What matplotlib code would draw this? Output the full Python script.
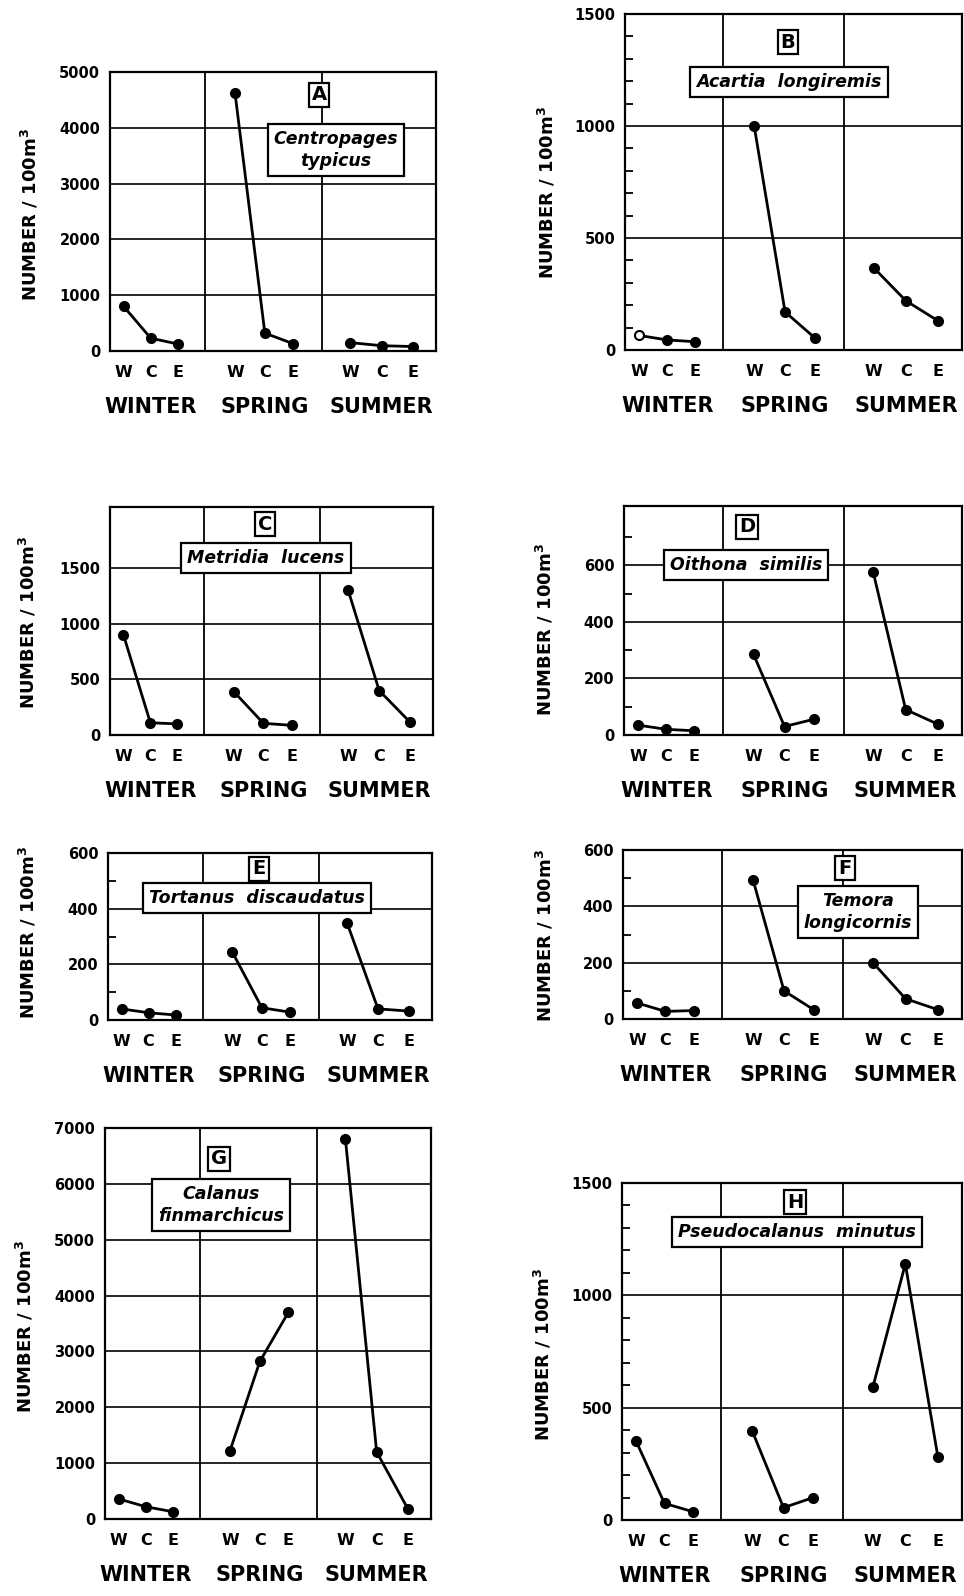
import matplotlib.pyplot as plt

W_PX, H_PX = 964, 1596
fig = plt.figure(figsize=(W_PX / 100, H_PX / 100), dpi=100)
plt.rcParams['font.family'] = ['DejaVu Sans']

seasons = ['WINTER', 'SPRING', 'SUMMER']
stations = ['W', 'C', 'E']

# numbers / 100 m^3 at stations W, C, E for each season
centropages = [[800, 230, 125], [4630, 320, 130], [150, 95, 80]]
acartia = [[65, 45, 37], [1000, 170, 55], [368, 220, 130]]
metridia = [[900, 110, 100], [390, 105, 87], [1300, 400, 115]]
oithona = [[35, 20, 15], [285, 30, 56], [575, 90, 38]]
tortanus = [[40, 26, 18], [245, 44, 28], [350, 40, 32]]
temora = [[57, 27, 30], [495, 100, 33], [200, 72, 33]]
calanus = [[360, 220, 130], [1220, 2820, 3700], [6800, 1200, 180]]
pseudocalanus = [[350, 74, 37], [395, 55, 100], [590, 1140, 280]]

# x layout inside each panel (0..12)
station_x = [[0.5, 1.5, 2.5], [4.6, 5.7, 6.75], [8.85, 10.0, 11.15]]
dividers = [3.5, 7.8]

# letter, species text, data, ymax, grid step, top labelled tick, minor step,
# axes box (px), letter box centre, species box centre, ylabel centre
panels = [
    ('A', 'Centropages\ntypicus', centropages, 5000, 1000, 5000, None,
     (110, 72, 436, 351), (319, 95), (336, 150), (30, 215)),
    ('B', 'Acartia  longiremis', acartia, 1500, 500, 1500, 100,
     (625, 14, 962, 350), (788, 42), (789, 82), (547, 193)),
    ('C', 'Metridia  lucens', metridia, 2050, 500, 1500, None,
     (110, 507, 433, 735), (265, 524), (266, 558), (28, 623)),
    ('D', 'Oithona  similis', oithona, 810, 200, 600, 100,
     (624, 506, 962, 735), (747, 527), (746, 565), (545, 630)),
    ('E', 'Tortanus  discaudatus', tortanus, 600, 200, 600, 100,
     (108, 853, 432, 1020), (259, 869), (257, 898), (28, 933)),
    ('F', 'Temora\nlongicornis', temora, 600, 200, 600, 100,
     (623, 850, 962, 1019), (845, 868), (858, 912), (545, 936)),
    ('G', 'Calanus\nfinmarchicus', calanus, 7000, 1000, 7000, None,
     (105, 1128, 431, 1519), (219, 1159), (221, 1205), (25, 1327)),
    ('H', 'Pseudocalanus  minutus', pseudocalanus, 1500, 500, 1500, 100,
     (622, 1183, 962, 1520), (795, 1202), (797, 1232), (543, 1355)),
]


def fx(px):
    return px / W_PX


def fy(py):
    return 1 - py / H_PX


for (letter, species, data, ymax, step, top, minor,
     box, lpos, spos, ypos) in panels:
    x0, y0, x1, y1 = box
    ax = fig.add_axes([fx(x0), fy(y1), fx(x1) - fx(x0), fy(y0) - fy(y1)])
    ax.set_xlim(0, 12)
    ax.set_ylim(0, ymax)

    for s, vals in enumerate(data):
        ax.plot(station_x[s], vals, '-', color='black', lw=2.0, zorder=3)
        face = ['black'] * 3
        if letter == 'B' and s == 0:
            face[0] = 'white'
        for xv, yv, fc in zip(station_x[s], vals, face):
            ax.plot(xv, yv, 'o', ms=6.5, mfc=fc, mec='black', mew=1.5,
                    zorder=4)

    ax.set_yticks(list(range(0, top + 1, step)))
    if minor:
        # short inward ticks between the grid lines
        ax.set_yticks([m for m in range(minor, int(ymax), minor)
                       if m % step != 0], minor=True)
        ax.tick_params(axis='y', which='minor', direction='in', length=6,
                       width=1.3, color='black')
    ax.yaxis.grid(True, which='major', color='black', lw=1.2)
    for d in dividers:
        ax.axvline(d, color='black', lw=1.3)

    ax.tick_params(axis='y', which='major', length=0, pad=7,
                   labelsize=10.5)
    for t in ax.get_yticklabels():
        t.set_fontweight('bold')

    xs = [x for grp in station_x for x in grp]
    ax.set_xticks(xs)
    ax.set_xticklabels(stations * 3, fontsize=11.5, fontweight='bold')
    ax.tick_params(axis='x', length=0, pad=10)

    for s, name in enumerate(seasons):
        ax.annotate(name, xy=(station_x[s][1], 0),
                    xycoords=('data', 'axes fraction'),
                    xytext=(0, -40), textcoords='offset points',
                    ha='center', va='center', fontsize=15,
                    fontweight='bold')

    for sp in ax.spines.values():
        sp.set_linewidth(1.6)

    fig.text(fx(ypos[0]), fy(ypos[1]), r'NUMBER / 100m$^{\mathbf{3}}$',
             rotation=90, ha='center', va='center', fontsize=13,
             fontweight='bold')

    fig.text(fx(lpos[0]), fy(lpos[1]), letter, ha='center', va='center',
             fontsize=14, fontweight='bold', zorder=5,
             bbox=dict(boxstyle='square,pad=0.15', fc='white', ec='black',
                       lw=1.6))
    fig.text(fx(spos[0]), fy(spos[1]), species, ha='center', va='center',
             fontsize=12.5, style='italic', fontweight='semibold',
             linespacing=1.25, zorder=5,
             bbox=dict(boxstyle='square,pad=0.35', fc='white', ec='black',
                       lw=1.6))

fig.savefig('out.png', dpi=100)
